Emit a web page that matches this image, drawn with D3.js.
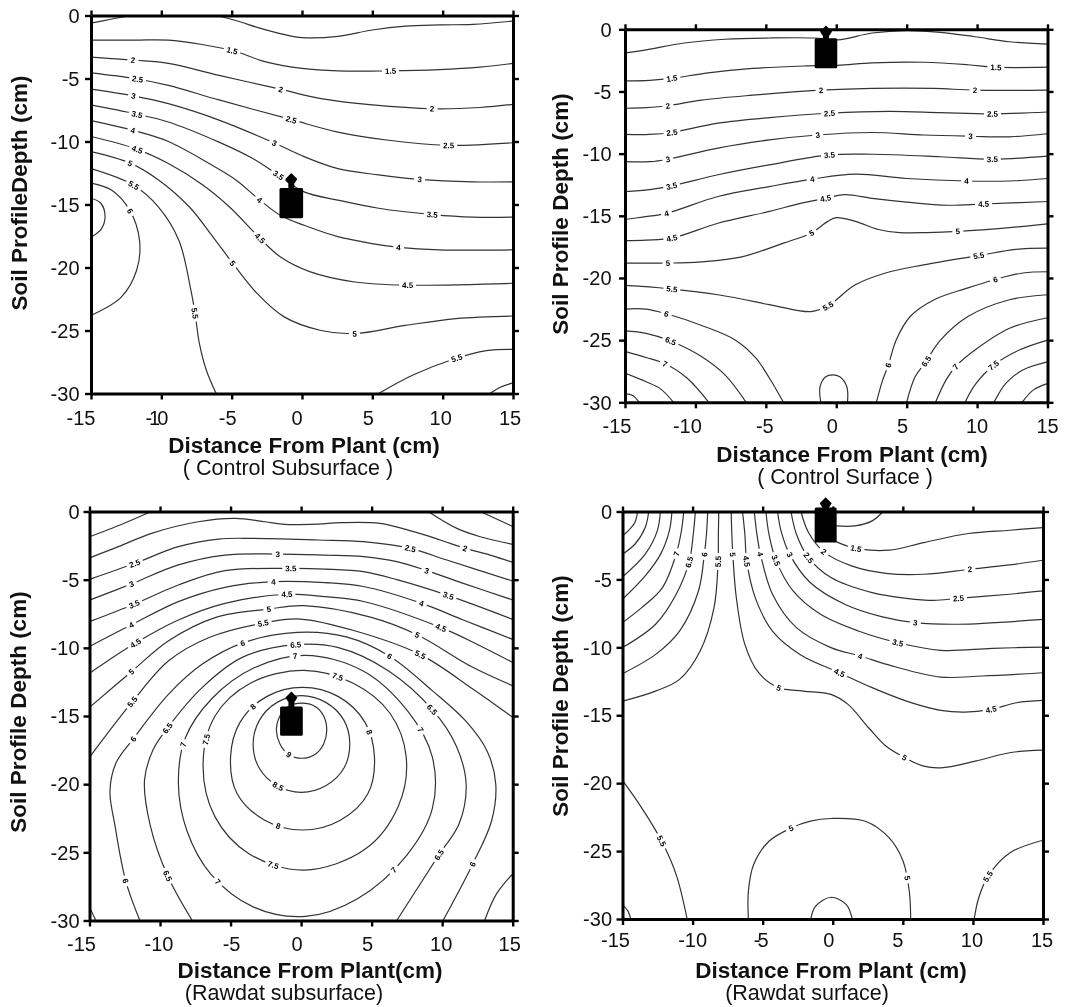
<!DOCTYPE html>
<html><head><meta charset="utf-8">
<script src="https://cdn.jsdelivr.net/npm/d3@7"></script>
<style>
html,body{margin:0;padding:0;background:#fff}
svg{display:block;filter:blur(0.5px)}
text{font-family:"Liberation Sans",Arial,sans-serif;fill:#111}
</style></head><body>
<div id="chart"></div>
<script>
// ---------- shared tick values (cm) ----------
const xTickValues = [-15,-10,-5,0,5,10,15];
const yTickValues = [0,-5,-10,-15,-20,-25,-30];

// ---------- Control Subsurface ----------
const contoursControlSubsurface = [
 ["1",[[-15,-.6],[-13.6,-.3],[-12.2,0]]],
 ["1",[[-6.1,0],[-4.7,-.4],[-3,-1],[-1.3,-1.5],[0,-1.75],[2.55,-1.65],[5,-1.15],[7.35,-.85],[9.75,-.75],[12.15,-.7],[15,-.45]]],
 ["1.5",[[-15,-1.95],[-11.9,-1.95],[-9.5,-1.95],[-7.1,-2.3],[-4.9,-2.8],[-2.5,-3.7],[0,-4.2],[2.55,-4.4],[6.15,-4.4],[9.75,-4.3],[12.65,-4.1],[15,-3.8]]],
 ["2",[[-15,-3.3],[-11.9,-3.55],[-9.5,-3.8],[-5.9,-4.75],[-1.55,-5.85],[1.35,-6.6],[5,-7.1],[9.3,-7.4],[12.65,-7.3],[15,-7.05]]],
 ["2.5",[[-15,-4.55],[-11.9,-5],[-9.5,-5.55],[-5.9,-6.7],[-.8,-8.25],[2.55,-9.25],[6.15,-9.9],[10.2,-10.3],[15,-10.1]]],
 ["3",[[-15,-5.85],[-11.9,-6.4],[-9.5,-7],[-5.9,-8.3],[-2,-10.1],[.15,-11.2],[2.55,-12.15],[5.45,-12.65],[8.3,-13],[12.15,-13.2],[15,-13.2]]],
 ["3.5",[[-15,-7.1],[-11.9,-7.8],[-9.5,-8.45],[-5.9,-10.05],[-3.5,-11.35],[-1.7,-12.65],[.15,-14],[2.55,-14.65],[5.45,-15.3],[9.3,-15.8],[12.15,-16],[15,-16]]],
 ["4",[[-15,-8.35],[-11.9,-9.15],[-9.5,-10],[-6.6,-11.75],[-4.7,-13.05],[-3,-14.65],[-1.55,-15.85],[.15,-16.65],[2.55,-17.55],[5,-18.1],[6.9,-18.4],[9.75,-18.6],[15,-18.6]]],
 ["4.5",[[-15,-9.6],[-11.9,-10.55],[-9.5,-11.75],[-7.05,-13.45],[-5.15,-15.2],[-3.1,-17.55],[-1.55,-19.15],[.6,-20.35],[3.75,-21.15],[7.35,-21.4],[15,-21.25]]],
 ["5",[[-15,-10.8],[-12.25,-11.7],[-10.2,-13.05],[-8,-15.2],[-6.35,-17.55],[-4.9,-19.7],[-3.2,-22.05],[-1.3,-23.9],[1.35,-25],[3.75,-25.25],[7.35,-24.6],[10.95,-24.05],[15,-23.85]]],
 ["5.5",[[-15,-12.15],[-12,-13.45],[-10.2,-15.2],[-8.75,-17.85],[-7.9,-21.8],[-7.6,-23.65],[-7.3,-26],[-6.8,-28.15],[-6.1,-30]]],
 ["6",[[-15,-13.3],[-13.55,-13.85],[-12.25,-15.45],[-11.55,-17.85],[-11.75,-20.2],[-12.85,-22.35],[-15,-23.8]]],
 ["6.5",[[-15,-14.5],[-14.3,-14.9],[-14,-16],[-14.3,-17],[-15,-17.6]]],
 ["5.5",[[5.45,-30],[7.85,-28.55],[10.7,-27.3],[13.1,-26.6],[15,-26.5]]],
 ["6",[[13.35,-30],[14.1,-29.5],[15,-29.15]]]
];
const labelsControlSubsurface = [
 ["1.5",-5,-2.75],["1.5",6.3,-4.4],["2",-12,-3.55],["2",-1.5,-5.85],["2",9.25,-7.4],
 ["2.5",-11.7,-5.05],["2.5",-.8,-8.35],["2.5",10.45,-10.3],["3",-12,-6.4],["3",-2,-10.15],["3",8.35,-12.95],
 ["3.5",-11.75,-7.85],["3.5",-1.7,-12.75],["3.5",9.25,-15.85],["4",-12,-9.1],["4",-3,-14.65],["4",6.85,-18.4],
 ["4.5",-11.7,-10.65],["4.5",-3,-17.7],["4.5",7.5,-21.45],["5",-12.25,-11.75],["5",-4.95,-19.7],["5",3.75,-25.25],
 ["5.5",-11.95,-13.45],["5.5",-7.6,-23.65],["5.5",11,-27.2],["6",-12.15,-15.45]
];
const plantControlSubsurface = [-1.6,.08,-13.7,-16.1,-12.5];

// ---------- Control Surface ----------
const contoursControlSurface = [
 ["1",[[-15,-1.9],[-13.5,-1.65],[-10.8,-1.1],[-7.9,-.8],[-4.75,-.7],[-1.6,-.7],[.1,-.85],[2.55,-.3],[5,-.1],[7.4,-.25],[9.85,-.6],[12.3,-1],[15,-1.2]]],
 ["1.5",[[-15,-4.15],[-13.25,-4.1],[-11.7,-3.95],[-9.1,-3.5],[-5.95,-3.15],[-2.3,-2.95],[.1,-2.9],[2.55,-2.7],[6.2,-2.65],[9.35,-2.85],[11.3,-3.05],[15,-3.05]]],
 ["2",[[-15,-6.35],[-13.5,-6.3],[-11.95,-6.15],[-9.6,-5.7],[-5.95,-5.3],[-1.1,-4.9],[2.55,-4.75],[6.9,-4.75],[9.85,-4.9],[15,-4.9]]],
 ["2.5",[[-15,-8.45],[-13.25,-8.45],[-11.7,-8.3],[-8.4,-7.55],[-4.75,-7.1],[-.5,-6.75],[3.75,-6.6],[7.4,-6.7],[11.05,-6.8],[15,-6.65]]],
 ["3",[[-15,-10.65],[-13.25,-10.65],[-11.95,-10.45],[-8.4,-9.55],[-4.75,-8.9],[-1.35,-8.5],[2.55,-8.3],[6.2,-8.5],[9.6,-8.6],[12.3,-8.65],[15,-8.4]]],
 ["3.5",[[-15,-13.05],[-13.25,-12.9],[-11.7,-12.6],[-8.4,-11.7],[-4.75,-10.9],[-.5,-10.1],[2.55,-10.05],[7.4,-10.25],[11.05,-10.45],[15,-10.2]]],
 ["4",[[-15,-15.3],[-13.75,-15.1],[-12.05,-14.8],[-8.4,-13.45],[-4.75,-12.65],[-1.7,-12.05],[1.35,-11.65],[5,-12],[9.2,-12.2],[12.3,-12.2],[15,-12]]],
 ["4.5",[[-15,-17],[-13.5,-16.95],[-11.7,-16.8],[-8.4,-15.6],[-4.75,-14.65],[-2.55,-14],[-.75,-13.6],[.6,-13.3],[2.55,-13.6],[5,-13.9],[7.9,-14.15],[10.45,-14.05],[15,-13.85]]],
 ["5",[[-15,-18.8],[-12,-18.8],[-9.6,-18.7],[-6.7,-18.3],[-3.75,-17.2],[-1.8,-16.4],[-.6,-15.45],[0,-15.15],[1.35,-15.45],[3,-16.1],[4.5,-16.35],[6.45,-16.35],[8.65,-16.25],[12.3,-15.95],[15,-15.65]]],
 ["5.5",[[-15,-20.6],[-12,-20.85],[-8.4,-21.35],[-4.75,-22.15],[-2.8,-22.6],[-1.8,-22.7],[-.6,-22.25],[1.35,-20.55],[3.5,-19.6],[6.2,-18.95],[10.1,-18.2],[12.75,-17.7],[15,-17.6]]],
 ["6",[[-15,-22.5],[-13.5,-22.5],[-12,-22.9],[-9.6,-23.8],[-7.15,-25],[-5.7,-26.45],[-4.75,-28.05],[-3.75,-30]]],
 ["6.5",[[-15,-24.25],[-13.5,-24.45],[-11.8,-25.05],[-9.6,-26.3],[-7.9,-27.8],[-6.4,-30]]],
 ["7",[[-15,-25.9],[-13.5,-26.4],[-12.15,-26.9],[-10.6,-28.05],[-9.05,-30]]],
 ["7.5",[[-15,-27.65],[-13.5,-28.35],[-12.5,-28.9],[-11.55,-30]]],
 ["8",[[-15,-29.3],[-14.45,-29.45],[-14,-30]]],
 ["5.5",[[-1.1,-30],[-1.15,-28.75],[-.75,-27.95],[-.25,-27.8],[.25,-27.95],[.75,-28.75],[.8,-30]]],
 ["6",[[2.85,-30],[3.3,-28.2],[3.7,-27],[4.25,-25],[5.25,-23.1],[6.95,-21.75],[9.35,-20.8],[11.35,-20.1],[13.25,-19.6],[15,-19.5]]],
 ["6.5",[[5,-30],[5.6,-27.95],[6.35,-26.75],[7.4,-25],[9.35,-23.1],[12.3,-21.75],[15,-21.35]]],
 ["7",[[7.05,-30],[7.8,-28.2],[8.5,-27.1],[9.85,-25.8],[12.3,-24.05],[15,-23.2]]],
 ["7.5",[[9.15,-30],[9.85,-28.6],[11.2,-27],[13,-25.8],[15,-25]]],
 ["8",[[11.2,-30],[12.05,-28.45],[13.25,-27.4],[15,-26.75]]],
 ["8.5",[[13.2,-30],[14,-29],[15,-28.5]]]
];
const labelsControlSurface = [
 ["1.5",-11.67,-3.94],["1.5",11.35,-3.06],["2",-11.96,-6.17],["2",-1.09,-4.93],["2",9.85,-4.88],
 ["2.5",-11.67,-8.31],["2.5",-.49,-6.76],["2.5",11.06,-6.81],["3",-11.96,-10.46],["3",-1.34,-8.5],["3",9.56,-8.55],
 ["3.5",-11.67,-12.6],["3.5",-.49,-10.19],["3.5",11.06,-10.4],["4",-12.04,-14.8],["4",-1.7,-12.04],["4",9.24,-12.2],
 ["4.5",-11.67,-16.81],["4.5",-.73,-13.59],["4.5",10.45,-14.08],["5",-11.96,-18.82],["5",-1.7,-16.41],["5",8.63,-16.22],
 ["5.5",-11.67,-20.88],["5.5",-.56,-22.25],["5.5",10.09,-18.2],["6",-12.04,-22.84],["6",3.7,-27],["6",11.35,-20.16],
 ["6.5",-11.74,-25.07],["6.5",6.37,-26.73],["7",-12.16,-26.92],["7",8.51,-27.13],["7.5",11.18,-27]
];
const plantControlSurface = [-1.53,.07,-.72,-3.14,.3];

// ---------- Rawdat subsurface ----------
const contoursRawdatSubsurface = [
 ["1",[[12.7,0],[15,-1.1]]],
 ["1.5",[[-15,-1.85],[-13.4,-1.23],[-12,-.62],[-10.6,0]]],
 ["1.5",[[9,0],[11.04,-1.24],[12.7,-1.85],[15,-2.41]]],
 ["2",[[-15,-3.4],[-12.95,-2.58],[-10.6,-1.6],[-7.3,-.75],[-4.7,-.5],[-2.55,-.75],[-1.15,-.94],[1.2,-.92],[2.77,-.82],[5.6,-.87],[7.97,-1.48],[9.86,-2.09],[11.63,-2.7],[13.4,-3.2],[15,-3.73]]],
 ["2.5",[[-15,-4.98],[-11.77,-3.8],[-8.7,-2.58],[-5.85,-2.02],[-3.5,-1.97],[1.2,-2.09],[4.42,-2.21],[7.73,-2.7],[10.33,-3.56],[15,-5.1]]],
 ["3",[[-15,-6.5],[-12,-5.3],[-8.7,-3.92],[-5.4,-3.2],[-1.65,-3.12],[1.7,-3.2],[4.42,-3.31],[6.79,-3.68],[8.92,-4.34],[11.5,-5.27],[15,-6.49]]],
 ["3.5",[[-15,-8.08],[-11.8,-6.78],[-8.7,-5.39],[-5.4,-4.34],[-.73,-4.17],[1.7,-4.22],[4.42,-4.41],[6.79,-5],[10.45,-6.17],[15,-7.91]]],
 ["4",[[-15,-9.9],[-12.06,-8.33],[-8.7,-6.61],[-5.4,-5.56],[-1.96,-5.15],[1.7,-5.22],[4.42,-5.5],[8.56,-6.74],[11.5,-7.96],[15,-9.38]]],
 ["4.5",[[-15,-11.87],[-11.77,-9.67],[-8.7,-7.96],[-5.4,-6.74],[-1.02,-6.07],[1.7,-6.25],[4.42,-6.6],[9.93,-8.52],[12.5,-9.75],[15,-11.07]]],
 ["5",[[-15,-14.37],[-12.03,-11.75],[-9.39,-9.48],[-6.04,-7.77],[-2.32,-7.16],[.19,-6.91],[4.98,-7.77],[8.22,-9.04],[12.17,-11.43],[15,-12.78]]],
 ["5.5",[[-15,-18.03],[-11.96,-13.95],[-9.39,-10.95],[-6.52,-9.24],[-2.68,-8.18],[-.05,-7.89],[3.79,-8.75],[8.46,-10.5],[12.17,-13.02],[15,-15.1]]],
 ["6",[[-11.43,-30],[-12.44,-27.07],[-13.2,-23],[-13.55,-20.5],[-13.1,-18.4],[-11.91,-16.69],[-9.39,-13.39],[-7,-11.19],[-4.17,-9.65],[-.29,-8.87],[3.2,-9.2],[6.3,-10.63],[9.3,-13.14],[11.7,-15.4],[13.2,-17.6],[13.8,-20],[13.5,-22.7],[12.17,-25.85],[10.06,-30]]],
 ["6.5",[[-7.72,-30],[-9.47,-26.7],[-10.7,-23],[-11.1,-19.7],[-10.5,-17.5],[-9.47,-15.88],[-7,-12.9],[-4.17,-10.7],[-.41,-9.77],[2.59,-9.97],[6.18,-11.68],[9.3,-14.54],[11,-17.2],[11.7,-20],[11.2,-22.9],[9.78,-25.17],[6.78,-30]]],
 ["7",[[.3,-10.55],[4.4,-11.7],[7.6,-14.7],[9.3,-18],[9.3,-21.8],[7.5,-25.2],[4,-28.4],[.3,-29.7],[-3.4,-29],[-6.4,-26.6],[-8.1,-23.4],[-8.7,-19.9],[-8.2,-16.6],[-6.3,-13.7],[-3.4,-11.5]],true],
 ["7.5",[[.2,-11.65],[3.7,-12.6],[6.3,-14.8],[7.45,-18],[6.9,-21.6],[4.5,-24.8],[.2,-26.3],[-3.7,-25.1],[-6.1,-22.4],[-6.95,-18.6],[-6.1,-15],[-3.6,-12.6]],true],
 ["8",[[.1,-12.9],[2.65,-13.58],[4.52,-15.45],[5.2,-18],[4.74,-20.68],[2.78,-22.64],[.1,-23.36],[-2.58,-22.64],[-4.54,-20.68],[-5,-18],[-4.32,-15.45],[-2.45,-13.58]],true],
 ["8.5",[[0,-13.5],[1.75,-14],[3.03,-15.3],[3.45,-17],[3.05,-18.8],[1.78,-20.1],[0,-20.6],[-1.72,-20.1],[-2.98,-18.8],[-3.4,-17.05],[-2.95,-15.3],[-1.7,-14]],true],
 ["9",[[.05,-14.05],[1,-14.3],[1.6,-15],[1.82,-16.05],[1.6,-17.05],[1,-17.8],[.05,-18.1],[-.9,-17.8],[-1.5,-17.05],[-1.75,-16.05],[-1.5,-15],[-.9,-14.3]],true],
 ["5.5",[[13.01,-30],[13.85,-28.05],[15,-26.58]]],
 ["5.5",[[-15,-29.03],[-14.55,-30]]]
];
const labelsRawdatSubsurface = [
 ["2",11.63,-2.7],["2.5",-11.77,-3.8],["2.5",7.73,-2.7],["3",-12,-5.3],["3",-1.65,-3.12],["3",8.92,-4.34],
 ["3.5",-11.8,-6.78],["3.5",-.73,-4.17],["3.5",10.45,-6.17],["4",-12.06,-8.33],["4",-1.96,-5.15],["4",8.56,-6.74],
 ["4.5",-11.77,-9.67],["4.5",-1.02,-6.07],["4.5",9.93,-8.52],["5",-12.03,-11.75],["5",-2.32,-7.16],["5",8.22,-9.04],
 ["5.5",-11.96,-13.95],["5.5",-2.68,-8.18],["5.5",8.46,-10.5],["6",-11.91,-16.69],["6",-12.44,-27.07],["6",-4.17,-9.65],["6",6.3,-10.63],["6",12.17,-25.85],
 ["6.5",-9.47,-15.88],["6.5",-9.47,-26.7],["6.5",-.41,-9.77],["6.5",9.3,-14.54],["6.5",9.78,-25.17],
 ["7",-8.32,-17.1],["7",-5.85,-27.07],["7",-.41,-10.63],["7",8.34,-16.13],["7",6.3,-26.04],
 ["7.5",-6.47,-16.76],["7.5",-1.92,-25.85],["7.5",2.59,-12.12],["8",-3.59,-14.07],["8",-1.61,-22.99],["8",4.91,-16.13],
 ["8.5",-1.56,-19.99],["9",-.81,-17.79]
];
const plantRawdatSubsurface = [-1.49,.12,-14.3,-16.45,-13.2];

// ---------- Rawdat surface ----------
const contoursRawdatSurface = [
 ["9",[[-13.92,0],[-14.12,-.81],[-14.6,-1.43],[-15,-1.79]]],
 ["8.5",[[-13.13,0],[-13.38,-1.18],[-14.12,-2.41],[-15,-3.14]]],
 ["8",[[-12.3,0],[-12.52,-1.43],[-13.38,-3.14],[-15,-4.82]]],
 ["7.5",[[-11.47,0],[-11.66,-1.43],[-12.28,-3.14],[-13.38,-4.74],[-15,-6.46]]],
 ["7",[[-10.63,0],[-10.8,-1.43],[-11.17,-3.14],[-12.15,-5.6],[-13.63,-7.08],[-15,-8.18]]],
 ["6.5",[[-9.8,0],[-9.95,-1.67],[-10.24,-3.69],[-11.17,-6.09],[-12.64,-8.3],[-15,-10.02]]],
 ["6",[[-8.92,0],[-9.01,-1.67],[-9.16,-3.14],[-9.58,-5.85],[-10.93,-8.8],[-12.64,-10.52],[-15,-11.94]]],
 ["5.5",[[-8.13,0],[-8.16,-1.67],[-8.18,-3.69],[-8.47,-7.08],[-9.46,-10.27],[-10.93,-12.36],[-12.64,-13.22],[-15,-13.96]]],
 ["5",[[-7.25,0],[-7.2,-1.67],[-7.13,-3.14],[-6.88,-6.34],[-6.27,-9.78],[-5.29,-11.87],[-3.86,-12.97],[-2.1,-13.22],[-.13,-13.46],[1.09,-14.2],[2.56,-15.92],[3.79,-17.27],[5.14,-18.13],[6.49,-18.75],[7.71,-18.87],[10.17,-18.38],[12.62,-17.76],[15,-17.57]]],
 ["4.5",[[-6.44,0],[-6.27,-1.67],[-6.14,-3.64],[-5.53,-6.34],[-4.3,-8.8],[-2.34,-10.52],[.48,-11.87],[2.81,-12.97],[5.26,-13.96],[7.71,-14.64],[9.43,-14.77],[11.27,-14.57],[13.11,-14.08],[15,-13.91]]],
 ["4",[[-5.6,0],[-5.41,-1.67],[-5.16,-3.14],[-4.3,-6.09],[-2.59,-8.55],[-.13,-10.02],[1.95,-10.64],[4.28,-11.38],[7.71,-12.19],[10.66,-12.11],[15,-11.87]]],
 ["3.5",[[-4.77,0],[-4.55,-1.67],[-4.06,-3.56],[-2.83,-5.85],[-.87,-7.57],[1.83,-8.8],[4.65,-9.66],[7.71,-10.22],[11.39,-10.07],[15,-9.98]]],
 ["3",[[-3.94,0],[-3.69,-1.43],[-3.08,-3.14],[-1.61,-5.23],[.85,-6.83],[3.54,-7.76],[5.87,-8.18],[8.94,-8.3],[15,-7.94]]],
 ["2.5",[[-2.98,0],[-2.59,-1.67],[-1.73,-3.39],[-.13,-4.86],[2.81,-5.97],[5.26,-6.39],[7.22,-6.54],[8.94,-6.39],[12.62,-6.09],[15,-5.85]]],
 ["2",[[-2.27,0],[-1.73,-1.55],[-.63,-2.97],[1.34,-4],[3.79,-4.55],[6.49,-4.62],[9.8,-4.25],[12.62,-3.93],[15,-3.59]]],
 ["1.5",[[.11,-2.16],[1.58,-2.7],[4.03,-2.85],[6.49,-2.29],[9.68,-1.62],[12.62,-1.38],[15,-1.18]]],
 ["1",[[.23,-1.06],[1.58,-1.06],[2.81,-.69],[3.59,0]]],
 ["5.5",[[-15,-19.8],[-13.63,-21.82],[-12.2,-24.28],[-11.17,-26.73],[-10.39,-30]]],
 ["6",[[-15,-28.94],[-14.6,-29.44],[-14.41,-30]]],
 ["5",[[-6.02,-30],[-6.02,-27.96],[-5.65,-26],[-4.55,-24.28],[-2.96,-23.3],[-1.6,-22.8],[-.13,-22.6],[2.32,-22.8],[4.03,-24.03],[5.02,-25.75],[5.46,-27.96],[5.56,-30]]],
 ["5.5",[[-1.56,-30],[-1.24,-29.07],[-.13,-28.4],[.97,-28.94],[1.39,-30]]],
 ["5.5",[[10.09,-30],[10.41,-28.45],[11.07,-26.86],[12.62,-25.14],[15,-24.2]]]
];
const labelsRawdatSurface = [
 ["1.5",1.63,-2.7],["2",-.63,-2.97],["2",9.8,-4.25],["2.5",-1.73,-3.39],["2.5",8.94,-6.39],["3",-3.08,-3.14],["3",5.87,-8.18],
 ["3.5",-4.06,-3.56],["3.5",4.65,-9.66],["4",-5.16,-3.14],["4",1.95,-10.64],["4.5",-6.14,-3.64],["4.5",.48,-11.87],["4.5",11.27,-14.57],
 ["5",-7.13,-3.14],["5",-3.86,-12.97],["5",5.14,-18.13],["5.5",-8.18,-3.69],["5.5",-12.2,-24.28],["5.5",11.07,-26.86],
 ["6",-9.16,-3.14],["6.5",-10.24,-3.69],["7",-11.17,-3.14],["5",-2.96,-23.29],["5",5.26,-26.98]
];
const plantRawdatSurface = [-1.29,.28,.3,-2.28,1.05];

// ---------- layout (pixels) and titles ----------
const panels = [
 {left:91,right:513,top:15.5,bottom:393.5,contours:contoursControlSubsurface,labels:labelsControlSubsurface,plant:plantControlSubsurface,
  yTitle:"Soil ProfileDepth (cm)",yTitleX:19,yTitleY:193,xTitle:"Distance From Plant (cm)",xTitleX:304,xTitleY:453,sub:"( Control Subsurface )",subX:288,subY:475,tickY:425,squeeze:-10,yTickGap:11.5,xDx:[-10,-6,-4,-5,-4,-2,-3]},
 {left:625,right:1047.5,top:29.3,bottom:402.3,contours:contoursControlSurface,labels:labelsControlSurface,plant:plantControlSurface,
  yTitle:"Soil Profile Depth (cm)",yTitleX:560,yTitleY:214,xTitle:"Distance From Plant (cm)",xTitleX:852,xTitleY:462,sub:"( Control Surface )",subX:845,subY:484,tickY:433,squeeze:null,yTickGap:13.5,xDx:[-8,-8,-1,-4,-4,0,0]},
 {left:89.5,right:512.7,top:511.5,bottom:920.5,contours:contoursRawdatSubsurface,labels:labelsRawdatSubsurface,plant:plantRawdatSubsurface,
  yTitle:"Soil Profile Depth (cm)",yTitleX:18,yTitleY:712,xTitle:"Distance From Plant(cm)",xTitleX:310,xTitleY:978,sub:"(Rawdat subsurface)",subX:284,subY:1000,tickY:951,squeeze:null,yTickGap:10,xDx:[-8,-1,1,-4,-4,-1,-3]},
 {left:622.5,right:1043,top:511.5,bottom:919,contours:contoursRawdatSurface,labels:labelsRawdatSurface,plant:plantRawdatSurface,
  yTitle:"Soil Profile Depth (cm)",yTitleX:560,yTitleY:696,xTitle:"Distance From Plant (cm)",xTitleX:831,xTitleY:978,sub:"(Rawdat surface)",subX:807,subY:1000,tickY:947,squeeze:-5,yTickGap:10.5,xDx:[-7,0,-3,-4,-5,-1,-1]}
];

const svg = d3.select("#chart").append("svg").attr("width",1067).attr("height",1007);

panels.forEach((p,i)=>{
  const x = d3.scaleLinear().domain([-15,15]).range([p.left,p.right]);
  const y = d3.scaleLinear().domain([-30,0]).range([p.bottom,p.top]);
  const g = svg.append("g");
  const clipId = "clip"+i;
  svg.append("clipPath").attr("id",clipId).append("rect")
    .attr("x",p.left).attr("y",p.top).attr("width",p.right-p.left).attr("height",p.bottom-p.top);

  // contour lines
  const openLine = d3.line().x(d=>x(d[0])).y(d=>y(d[1])).curve(d3.curveCatmullRom.alpha(.5));
  const closedLine = d3.line().x(d=>x(d[0])).y(d=>y(d[1])).curve(d3.curveCatmullRomClosed.alpha(.5));
  const lines = g.append("g").attr("clip-path",`url(#${clipId})`).selectAll("path").data(p.contours).join("path")
    .attr("d",d=>(d[2]?closedLine:openLine)(d[1]))
    .attr("fill","none").attr("stroke","#333").attr("stroke-width",1.2);

  // sample every contour so each label can sit on, and follow, its nearest line
  const samples = [];
  lines.each(function(){
    const L=this.getTotalLength();
    for(let s=0;s<=L;s+=1){const a=this.getPointAtLength(s);samples.push({path:this,s,L,x:a.x,y:a.y});}
  });
  const labelG = g.append("g");
  p.labels.forEach(l=>{
    const px=x(l[1]),py=y(l[2]);
    const n=d3.least(samples,q=>(q.x-px)**2+(q.y-py)**2);
    const a=n.path.getPointAtLength(Math.max(0,n.s-3)),b=n.path.getPointAtLength(Math.min(n.L,n.s+3));
    let ang=Math.atan2(b.y-a.y,b.x-a.x)*180/Math.PI;
    if(ang>90)ang-=180; if(ang<-90)ang+=180;
    const t=labelG.append("g").attr("transform",`translate(${n.x},${n.y}) rotate(${ang})`);
    t.append("rect").attr("x",-(l[0].length>1?8.5:5.5)).attr("y",-3.5).attr("width",l[0].length>1?17:11).attr("height",7).attr("fill","#fff");
    t.append("text").text(l[0]).attr("text-anchor","middle").attr("dy","0.36em")
      .style("font-size","8px").style("font-weight","bold").style("fill","#000");
  });

  // plant marker
  const m=p.plant, cx=x((m[0]+m[1])/2);
  const plant=g.append("g").attr("fill","#000");
  plant.append("rect").attr("x",x(m[0])).attr("y",y(m[2])).attr("width",x(m[1])-x(m[0])).attr("height",y(m[3])-y(m[2])).attr("rx",1.5);
  plant.append("rect").attr("x",cx-3).attr("y",y(m[4])+5).attr("width",6).attr("height",y(m[2])-y(m[4])-4);
  plant.append("path").attr("d",d3.line()([[cx,y(m[4])],[cx+6,y(m[4])+6],[cx+3.5,y(m[4])+10],[cx-3.5,y(m[4])+10],[cx-6,y(m[4])+6]]));

  // frame and ticks on all four sides
  const styleAxis=sel=>{
    sel.selectAll("path.domain").attr("stroke","#000").attr("stroke-width",3);
    sel.selectAll(".tick line").attr("stroke","#000").attr("stroke-width",2.4);
    sel.selectAll(".tick text").remove();
  };
  g.append("g").attr("transform",`translate(0,${p.top})`).call(d3.axisTop(x).tickValues(xTickValues).tickSize(5).tickSizeOuter(0)).call(styleAxis);
  g.append("g").attr("transform",`translate(0,${p.bottom})`).call(d3.axisBottom(x).tickValues(xTickValues).tickSize(6).tickSizeOuter(0)).call(styleAxis);
  g.append("g").attr("transform",`translate(${p.left},0)`).call(d3.axisLeft(y).tickValues(yTickValues).tickSize(6).tickSizeOuter(0)).call(styleAxis);
  g.append("g").attr("transform",`translate(${p.right},0)`).call(d3.axisRight(y).tickValues(yTickValues).tickSize(6).tickSizeOuter(0)).call(styleAxis);

  // tick labels
  g.selectAll("text.xt").data(xTickValues).join("text").attr("class","xt")
    .attr("x",(d,k)=>x(d)+p.xDx[k]).attr("y",p.tickY).attr("text-anchor","middle")
    .style("font-size","20px").style("letter-spacing",d=>d===p.squeeze?"-3px":null).text(d=>d);
  g.selectAll("text.yt").data(yTickValues).join("text").attr("class","yt")
    .attr("x",p.left-p.yTickGap).attr("y",d=>y(d)).attr("dy","0.36em").attr("text-anchor","end")
    .style("font-size","20px").text(d=>d);

  // titles
  g.append("text").text(p.xTitle).attr("x",p.xTitleX).attr("y",p.xTitleY).attr("text-anchor","middle").style("font-size","22.5px").style("font-weight","bold");
  g.append("text").text(p.sub).attr("x",p.subX).attr("y",p.subY).attr("text-anchor","middle").style("font-size","21.5px");
  g.append("text").text(p.yTitle).attr("transform",`translate(${p.yTitleX+8},${p.yTitleY}) rotate(-90)`).attr("text-anchor","middle").style("font-size","22.5px").style("font-weight","bold");
});
</script>
</body></html>
